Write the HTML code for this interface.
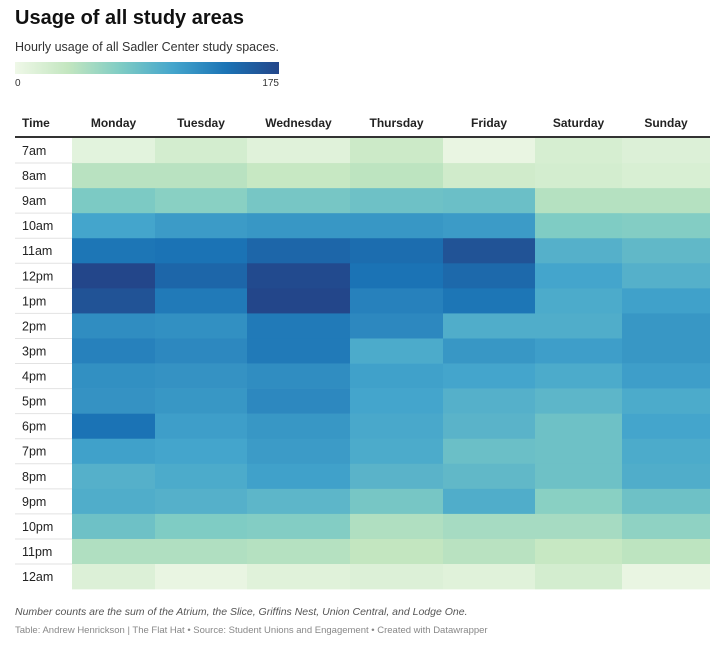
<!DOCTYPE html>
<html><head><meta charset="utf-8">
<style>
body{margin:0;background:#fff;width:723px;height:643px;overflow:hidden;font-family:"Liberation Sans",Arial,sans-serif}
</style></head>
<body>
<svg id="chart" width="723" height="643" xmlns="http://www.w3.org/2000/svg" font-family="Liberation Sans, Arial, sans-serif">
<defs>
<linearGradient id="lg" x1="0" x2="1" y1="0" y2="0">
<stop offset="0" stop-color="#eff8e8"/><stop offset="0.2" stop-color="#c3e6c0"/><stop offset="0.4" stop-color="#7fccc4"/><stop offset="0.6" stop-color="#44a5cc"/><stop offset="0.8" stop-color="#1b73b5"/><stop offset="1" stop-color="#23468a"/>
</linearGradient>
</defs>
<text x="15" y="24" font-size="20" font-weight="bold" fill="#111">Usage of all study areas</text>
<text x="15" y="51" font-size="12.5" fill="#333">Hourly usage of all Sadler Center study spaces.</text>
<rect x="15" y="62" width="264" height="12" fill="url(#lg)"/>
<text x="15" y="86" font-size="10" fill="#333">0</text>
<text x="279" y="86" font-size="10" fill="#333" text-anchor="end">175</text>
<g id="table"></g>
<text x="15" y="615" font-size="10.5" font-style="italic" fill="#555">Number counts are the sum of the Atrium, the Slice, Griffins Nest, Union Central, and Lodge One.</text>
<text x="15" y="633" font-size="9.5" fill="#888">Table: Andrew Henrickson | The Flat Hat • Source: Student Unions and Engagement • Created with Datawrapper</text>
</svg>
<script>
const days=["Monday","Tuesday","Wednesday","Thursday","Friday","Saturday","Sunday"];
const times=["7am","8am","9am","10am","11am","12pm","1pm","2pm","3pm","4pm","5pm","6pm","7pm","8pm","9pm","10pm","11pm","12am"];
const monday=[10,40,72,105,138,175,165,122,130,120,118,140,108,95,98,80,45,15];
const tuesday=[22,40,65,112,140,150,135,120,125,118,115,110,105,100,95,70,45,5];
const wednesday=[12,32,75,115,150,172,175,135,135,122,125,115,112,108,90,68,42,12];
const thursday=[28,38,80,115,145,140,130,125,100,108,105,102,100,92,75,45,35,15];
const friday=[5,25,82,112,165,148,138,98,115,105,95,92,82,88,98,50,40,12];
const saturday=[20,22,42,70,95,105,100,98,110,100,90,80,80,80,65,50,32,22];
const sunday=[15,18,42,68,88,95,108,115,115,110,100,105,100,98,80,62,38,5];
const series=[monday,tuesday,wednesday,thursday,friday,saturday,sunday];
const maxV=175;
const stops=[[0,[239,248,232]],[0.2,[195,230,192]],[0.4,[127,204,196]],[0.6,[68,165,204]],[0.8,[27,115,181]],[1,[35,70,138]]];
function color(v){let t=Math.max(0,Math.min(1,v/maxV));for(let i=1;i<stops.length;i++){if(t<=stops[i][0]){const a=stops[i-1],b=stops[i];const f=(t-a[0])/(b[0]-a[0]);const c=a[1].map((x,k)=>Math.round(x+(b[1][k]-x)*f));return `rgb(${c})`;}}return "rgb(35,70,138)";}
const edges=[72,155,247,350,443,535,622,710];
const top0=138,rowH=25.06;
function yPos(i){return top0+i*rowH;}
const NS="http://www.w3.org/2000/svg";
const g=document.getElementById("table");
function mk(tag,attrs,txt){const e=document.createElementNS(NS,tag);for(const k in attrs)e.setAttribute(k,attrs[k]);if(txt!=null)e.textContent=txt;g.appendChild(e);return e;}
let h=mk("text",{x:22,y:127,"font-size":12,"font-weight":"bold",fill:"#222"},"Time");


days.forEach((d,j)=>{
  const e=mk("text",{x:(edges[j]+edges[j+1])/2,y:127,"font-size":12,"font-weight":"bold",fill:"#222","text-anchor":"middle"},d);
  
  
});
times.forEach((t,i)=>{
  const y=yPos(i);
  series.forEach((s,j)=>{
    const r=mk("rect",{x:edges[j],y:y,width:edges[j+1]-edges[j],height:rowH+0.3,fill:color(s[i])});
    
    
  });
  const l=mk("text",{x:22,y:y+17,"font-size":12.5,fill:"#222"},t);
  
  
  if(i>0){const ln=mk("line",{x1:15,x2:72,y1:y,y2:y,stroke:"#e2e2e2","stroke-width":1});
  
  }
});
const hl=mk("line",{x1:15,x2:710,y1:137,y2:137,stroke:"#333","stroke-width":2});


</script>
</body></html>
